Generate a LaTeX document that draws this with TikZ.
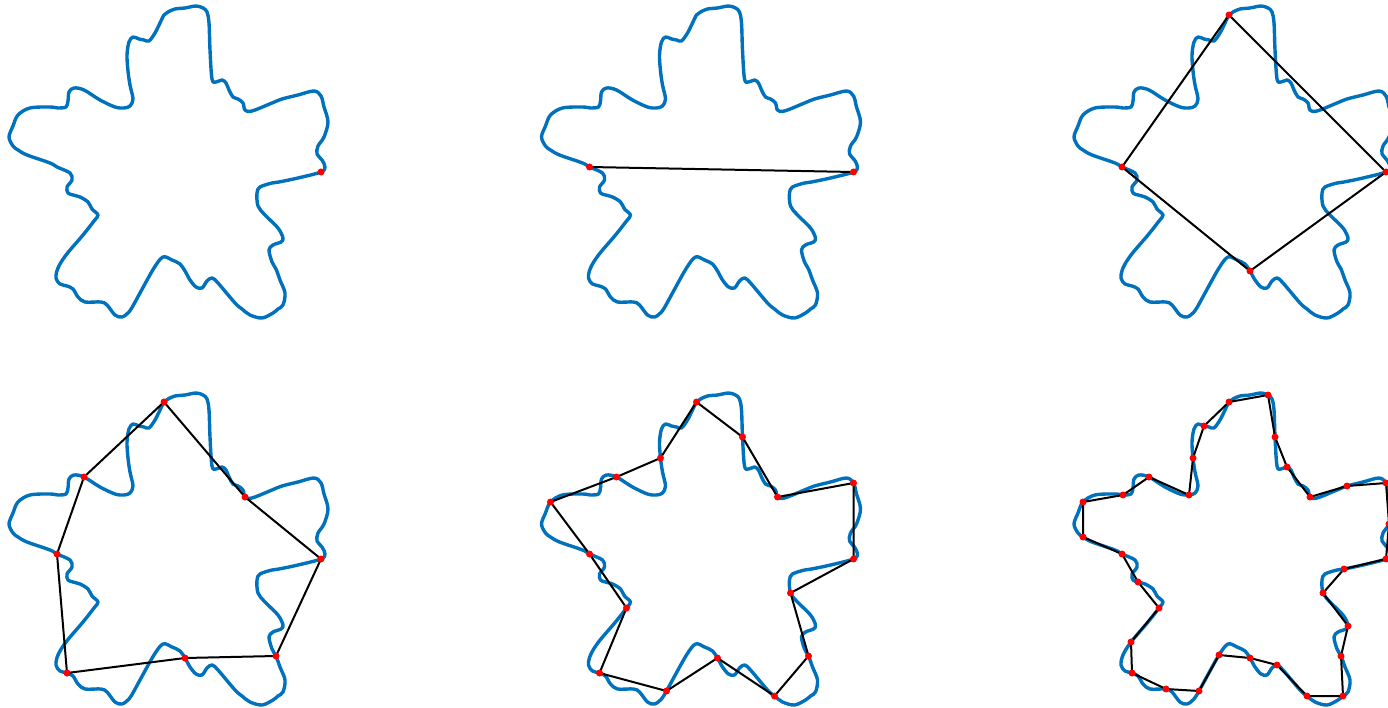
\documentclass[tikz,border=0pt]{standalone}
\definecolor{curveblue}{RGB}{0,114,189}

% closed wavy outline, in pixel units of the first panel
\newcommand\drawoutline{%
  \draw[outline] plot[smooth cycle, tension=0.55] coordinates {
    (321,172) (325,167) (322,160) (317,154) (318,146) (324,137) (328,122)
    (324,107) (321,96) (314,91) (298,95) (282,99) (272,103) (252,111)
    (245,110) (243,103) (238,99) (233,97) (229,90) (226,83) (222,80)
    (216,82) (212,79) (210,50) (209,23) (207,12) (203,8) (196,6) (185,8)
    (175,9) (168,12) (164,15) (160,23) (155,33) (149,41) (144,40) (139,39)
    (133,37) (129,42) (127,55) (128,71) (130,85) (133,99) (130,106)
    (124,108) (115,107) (100,100) (84,90) (74,88) (69,92) (68,101)
    (66,107) (58,108) (50,107) (30,108) (18,115) (13,126) (9,137)
    (13,146) (18,150) (27,155) (50,163) (57,167) (70,173) (72,180)
    (67,187) (68,193) (73,195) (80,197) (88,202) (92,209) (98,215)
    (94,221) (83,235) (66,255) (58,268) (56,278) (60,284) (67,286)
    (73,289) (78,297) (85,302) (101,302) (107,305) (115,315) (122,317)
    (129,312) (134,304) (140,293) (154,268) (163,257) (172,260)
    (180,264) (185,271) (190,280) (196,287) (202,288) (207,281)
    (212,278) (218,283) (235,303) (242,309) (250,315) (262,318)
    (273,313) (278,309) (283,305) (285,293) (280,280) (276,269)
    (272,262) (269,250) (273,245) (281,242) (283,238) (278,228)
    (265,215) (258,206) (257,193) (260,187) (272,183) (279,182)
    (298,178)};}

% the 32 sample points along the outline
\newcommand\setpoints{%
  \coordinate (p0) at (321,172);  \coordinate (p1) at (324,137);
  \coordinate (p2) at (321,96);   \coordinate (p3) at (282,99);
  \coordinate (p4) at (245,110);  \coordinate (p5) at (222,80);
  \coordinate (p6) at (210,50);   \coordinate (p7) at (203,8);
  \coordinate (p8) at (164,15);   \coordinate (p9) at (139,39);
  \coordinate (p10) at (128,71);  \coordinate (p11) at (124,108);
  \coordinate (p12) at (84,90);   \coordinate (p13) at (58,108);
  \coordinate (p14) at (18,115);  \coordinate (p15) at (18,150);
  \coordinate (p16) at (57,167);  \coordinate (p17) at (73,195);
  \coordinate (p18) at (94,221);  \coordinate (p19) at (66,255);
  \coordinate (p20) at (67,286);  \coordinate (p21) at (101,302);
  \coordinate (p22) at (134,304); \coordinate (p23) at (154,268);
  \coordinate (p24) at (185,271); \coordinate (p25) at (212,278);
  \coordinate (p26) at (242,309); \coordinate (p27) at (278,309);
  \coordinate (p28) at (276,269); \coordinate (p29) at (283,239);
  \coordinate (p30) at (258,206); \coordinate (p31) at (279,182);}

\begin{document}
\begin{tikzpicture}[x=1pt,y=-1pt,
    outline/.style={curveblue, line width=3.4pt, line join=round},
    chord/.style={black, line width=2pt, line join=round},
    sample/.style={red}]
  \clip (0,0) rectangle (1388,708);

  % 1 sample
  \begin{scope}
    \setpoints
    \drawoutline
    \fill[sample] (p0) circle (3.5pt);
  \end{scope}

  % 2 samples
  \begin{scope}[shift={(532.5,0)}]
    \setpoints
    \drawoutline
    \draw[chord] (p0) -- (p16);
    \foreach \i in {0,16} \fill[sample] (p\i) circle (3.5pt);
  \end{scope}

  % 4 samples
  \begin{scope}[shift={(1065,0)}]
    \setpoints
    \drawoutline
    \draw[chord] (p0) foreach \i in {8,16,24} {-- (p\i)} -- cycle;
    \foreach \i in {0,8,...,24} \fill[sample] (p\i) circle (3.5pt);
  \end{scope}

  % 8 samples
  \begin{scope}[shift={(0,387)}]
    \setpoints
    \drawoutline
    \draw[chord] (p0) foreach \i in {4,8,...,28} {-- (p\i)} -- cycle;
    \foreach \i in {0,4,...,28} \fill[sample] (p\i) circle (3.5pt);
  \end{scope}

  % 16 samples
  \begin{scope}[shift={(532.5,387)}]
    \setpoints
    \drawoutline
    \draw[chord] (p0) foreach \i in {2,4,...,30} {-- (p\i)} -- cycle;
    \foreach \i in {0,2,...,30} \fill[sample] (p\i) circle (3.5pt);
  \end{scope}

  % 32 samples
  \begin{scope}[shift={(1065,387)}]
    \setpoints
    \drawoutline
    \draw[chord] (p0) foreach \i in {1,...,31} {-- (p\i)} -- cycle;
    \foreach \i in {0,...,31} \fill[sample] (p\i) circle (3.5pt);
  \end{scope}
\end{tikzpicture}
\end{document}
